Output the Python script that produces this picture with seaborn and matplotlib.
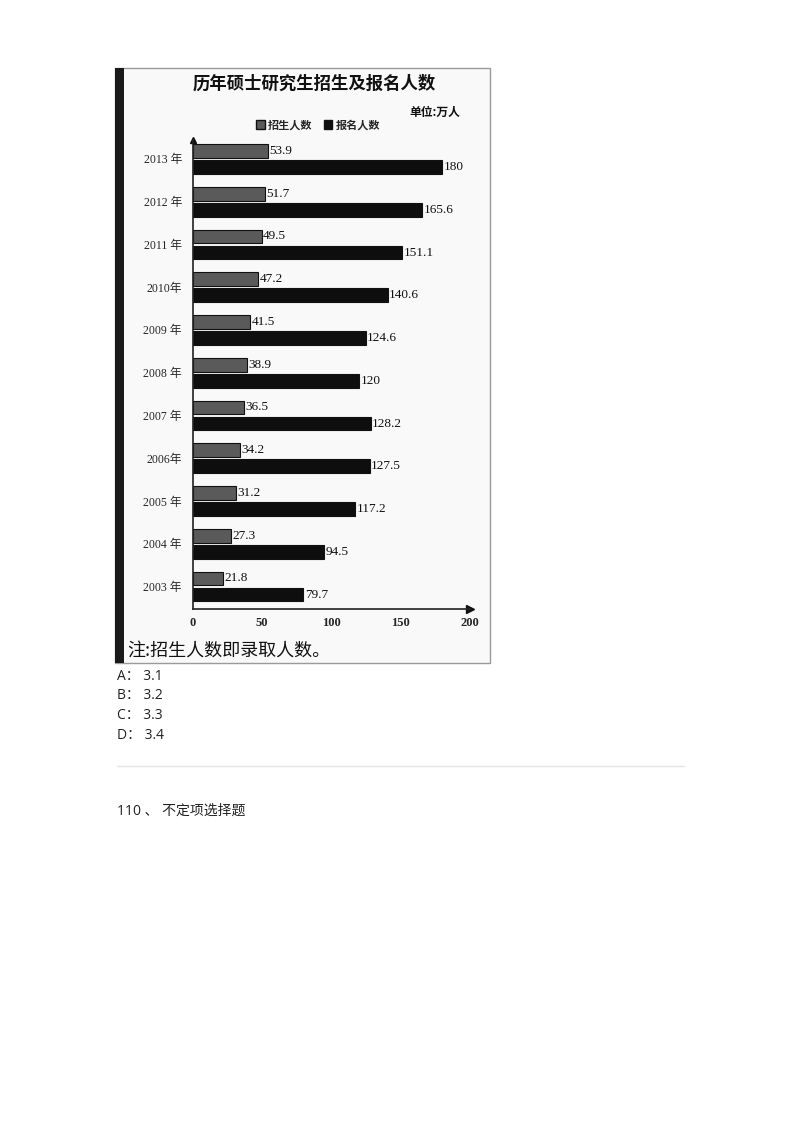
import matplotlib
matplotlib.use("Agg")
import matplotlib.pyplot as plt
import seaborn as sns
import pandas as pd
from matplotlib.patches import Rectangle
from matplotlib.lines import Line2D

# data
years = ["2013 年", "2012 年", "2011 年", "2010年", "2009 年", "2008 年",
         "2007 年", "2006年", "2005 年", "2004 年", "2003 年"]
enrolled = [53.9, 51.7, 49.5, 47.2, 41.5, 38.9, 36.5, 34.2, 31.2, 27.3, 21.8]
applied = [180, 165.6, 151.1, 140.6, 124.6, 120, 128.2, 127.5, 117.2, 94.5, 79.7]
series_names = ["招生人数", "报名人数"]
x_ticks = [0, 50, 100, 150, 200]
options = ["A： 3.1", "B： 3.2", "C： 3.3", "D： 3.4"]

df = pd.DataFrame({
    "year": years * 2,
    "value": enrolled + applied,
    "series": [series_names[0]] * len(years) + [series_names[1]] * len(years),
})

sns.set_style("white")
plt.rcParams["font.family"] = ["Noto Sans CJK SC", "DejaVu Sans"]
serif = ["Liberation Serif", "Noto Sans CJK SC"]
doc_font = ["Open Sans", "Noto Sans CJK SC"]

W, H = 800, 1132
fig = plt.figure(figsize=(8, 11.32), dpi=100)


def px(x, y):
    return x / W, 1 - y / H


# scanned picture frame
fig.add_artist(Rectangle(px(115, 663), 375 / W, 595 / H, transform=fig.transFigure,
                         facecolor="#f9f9f9", edgecolor="#9a9a9a", lw=1, zorder=-2))
fig.add_artist(Rectangle(px(115, 663), 9 / W, 595 / H, transform=fig.transFigure,
                         facecolor="#1a1a1a", edgecolor="none", zorder=-1))

left, right, top, bottom = 193, 470, 140, 609
ax = fig.add_axes([left / W, 1 - bottom / H, (right - left) / W, (bottom - top) / H])
ax.set_facecolor("none")

sns.barplot(data=df, y="year", x="value", hue="series", order=years,
            hue_order=series_names, palette=["#5a5a5a", "#0e0e0e"],
            width=0.75, gap=0.15, edgecolor="#111111", linewidth=0.8,
            orient="h", ax=ax, legend=True)

for cont in ax.containers:
    ax.bar_label(cont, fmt="{:g}", padding=1, fontsize=9.5, family=serif, color="#111111")

ax.set_xlim(0, 200)
ax.set_ylim(10.526, -0.444)
ax.set_xticks(x_ticks)
ax.set_xticklabels([str(t) for t in x_ticks], family=serif, fontsize=9, fontweight="bold")
ax.set_yticks(range(len(years)))
ax.set_yticklabels(years, family=serif, fontsize=8.5)
ax.tick_params(axis="both", length=0)
ax.tick_params(axis="x", pad=6)
ax.tick_params(axis="y", pad=8)
ax.set_xlabel("")
ax.set_ylabel("")
for s in ["top", "right"]:
    ax.spines[s].set_visible(False)
for s in ["left", "bottom"]:
    ax.spines[s].set_color("#222222")
    ax.spines[s].set_linewidth(1.2)
ax.plot(1, 0, ">", color="#111111", markersize=6, transform=ax.transAxes, clip_on=False)
ax.plot(0, 1, "^", color="#111111", markersize=5, transform=ax.transAxes, clip_on=False)

handles = [Rectangle((0, 0), 1, 1, facecolor="#5a5a5a", edgecolor="#111111"),
           Rectangle((0, 0), 1, 1, facecolor="#0e0e0e", edgecolor="#111111")]
ax.legend(handles, series_names, loc="center", bbox_to_anchor=px(318, 125),
          bbox_transform=fig.transFigure, ncol=2, frameon=False,
          handlelength=0.8, handleheight=0.8, handletextpad=0.3,
          columnspacing=1.0, prop={"size": 8, "weight": "bold"})

fig.text(*px(314, 84), "历年硕士研究生招生及报名人数", ha="center", va="center",
         fontsize=12.5, fontweight="bold", color="#111111")
fig.text(*px(460, 112), "单位:万人", ha="right", va="center", fontsize=8.5,
         fontweight="bold", color="#111111")
fig.text(*px(127, 651), "注:招生人数即录取人数。", ha="left", va="center",
         fontsize=13, color="#111111")

# page text below the picture
for i, opt in enumerate(options):
    fig.text(*px(117, 676 + i * 19.7), opt, ha="left", va="center",
             fontsize=10, family=doc_font, color="#222222")
fig.add_artist(Line2D([117 / W, 684 / W], [1 - 766 / H] * 2, transform=fig.transFigure,
                      color="#e4e4e4", lw=1))
fig.text(*px(117, 811), "110 、 不定项选择题", ha="left", va="center",
         fontsize=10, family=doc_font, color="#222222")

fig.savefig("out.png", dpi=100, facecolor="white")
